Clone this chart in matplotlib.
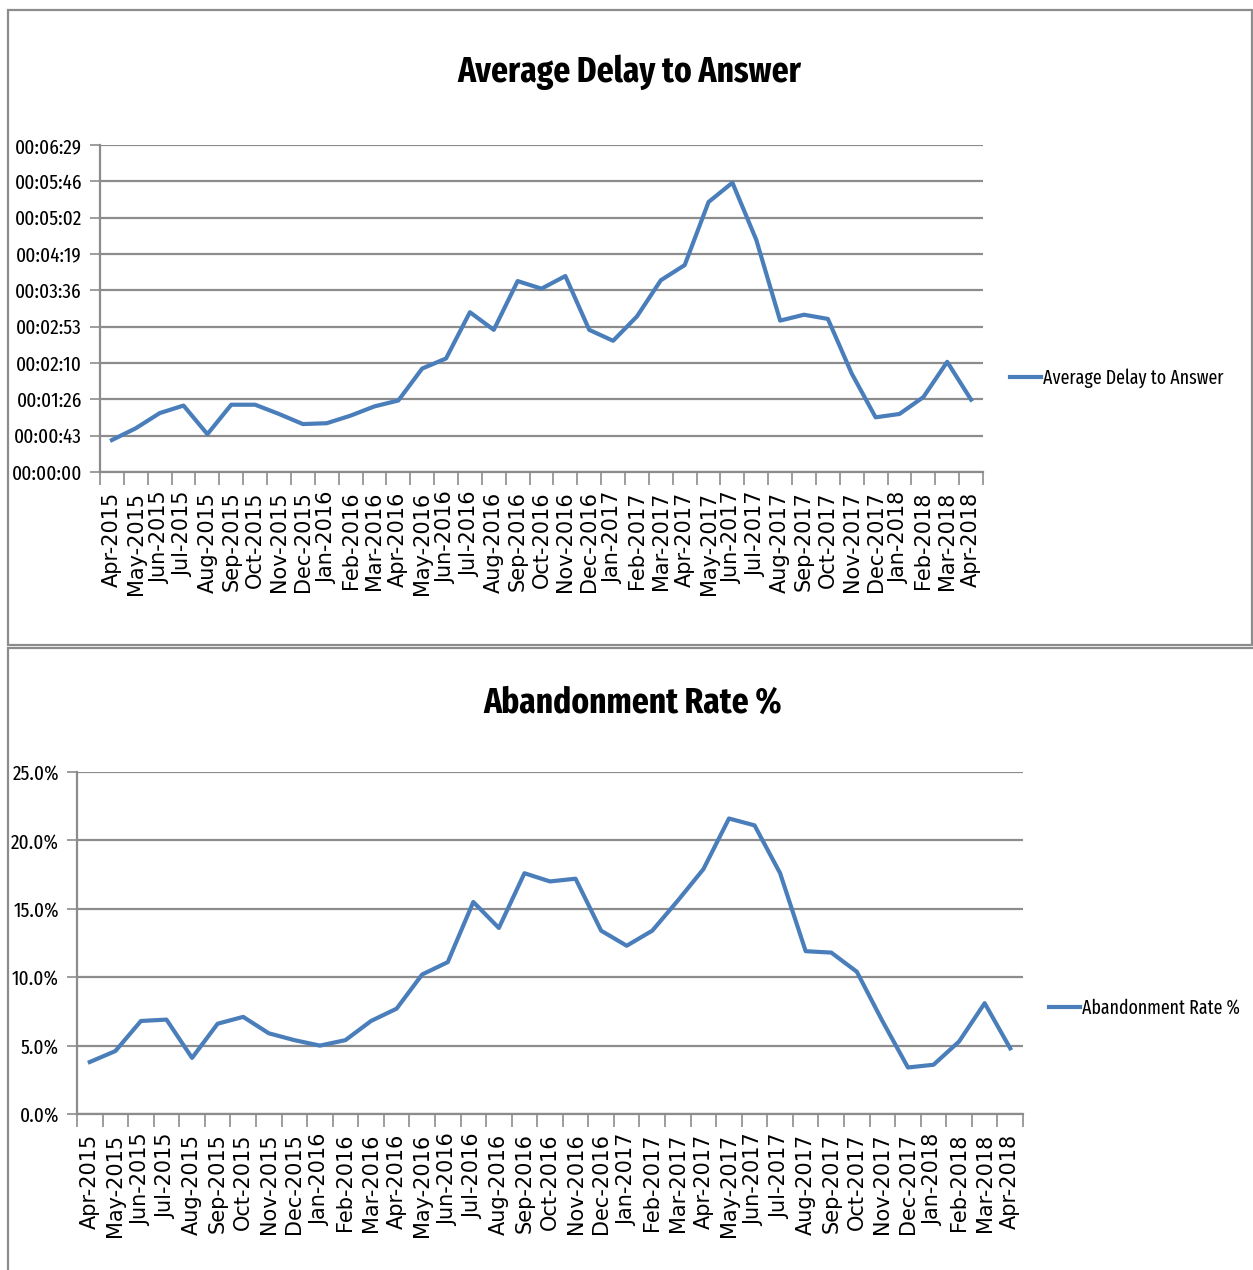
import matplotlib
matplotlib.use('Agg')
import matplotlib.pyplot as plt
from matplotlib.patches import Rectangle
from matplotlib.ticker import FuncFormatter, MultipleLocator

# months on the category axis
months = ['Apr-2015', 'May-2015', 'Jun-2015', 'Jul-2015', 'Aug-2015', 'Sep-2015',
          'Oct-2015', 'Nov-2015', 'Dec-2015', 'Jan-2016', 'Feb-2016', 'Mar-2016',
          'Apr-2016', 'May-2016', 'Jun-2016', 'Jul-2016', 'Aug-2016', 'Sep-2016',
          'Oct-2016', 'Nov-2016', 'Dec-2016', 'Jan-2017', 'Feb-2017', 'Mar-2017',
          'Apr-2017', 'May-2017', 'Jun-2017', 'Jul-2017', 'Aug-2017', 'Sep-2017',
          'Oct-2017', 'Nov-2017', 'Dec-2017', 'Jan-2018', 'Feb-2018', 'Mar-2018',
          'Apr-2018']

# average delay to answer, seconds
delay_sec = [38, 52, 70, 79, 45, 80, 80, 69, 57, 58, 67, 78,
             85, 123, 135, 190, 169, 227, 218, 233, 169, 156, 185, 228,
             246, 321, 344, 276, 180, 187, 182, 117, 65, 69, 89, 131,
             86]

# abandonment rate, percent
abandon_pct = [3.8, 4.6, 6.8, 6.9, 4.1, 6.6, 7.1, 5.9, 5.4, 5.0, 5.4, 6.8,
               7.7, 10.2, 11.1, 15.5, 13.6, 17.6, 17.0, 17.2, 13.4, 12.3, 13.4, 15.6,
               17.9, 21.6, 21.1, 17.6, 11.9, 11.8, 10.4, 6.8, 3.4, 3.6, 5.3, 8.1,
               4.8]

W, H = 1253, 1270
blue = '#4a7ebb'
grey = '#8c8c8c'
narrow = ['Fira Sans Extra Condensed', 'Roboto Condensed', 'DejaVu Sans']

fig = plt.figure(figsize=(W / 100, H / 100), dpi=100)


def box(x0, y0, x1, y1):
    # pixel box (top-left origin) -> figure fraction
    return [x0 / W, 1 - y1 / H, (x1 - x0) / W, (y1 - y0) / H]


def hms(v, pos):
    s = int(round(v))
    return '%02d:%02d:%02d' % (s // 3600, (s % 3600) // 60, s % 60)


def pct(v, pos):
    return '%.1f%%' % v


def draw(rect, values, label, ymax, ystep, fmt, leg_xy):
    ax = fig.add_axes(rect)
    x = list(range(len(months)))
    ax.plot(x, values, color=blue, lw=3.0, label=label)
    ax.set_xlim(-0.5, len(months) - 0.5)
    ax.set_ylim(0, ymax)
    ax.yaxis.set_major_locator(MultipleLocator(ystep))
    ax.yaxis.set_major_formatter(FuncFormatter(fmt))
    ax.grid(axis='y', color=grey, lw=1.6)
    ax.set_axisbelow(True)
    # tick marks between categories, labels centred
    ax.set_xticks([i - 0.5 for i in range(len(months) + 1)])
    ax.set_xticklabels([])
    ax.set_xticks(x, minor=True)
    ax.set_xticklabels(months, minor=True, rotation=90, fontsize=15,
                       family='DejaVu Sans')
    ax.tick_params(axis='x', which='major', length=9, width=1.2, color=grey, direction='out')
    ax.tick_params(axis='x', which='minor', length=0, pad=14)
    ax.tick_params(axis='y', length=7, width=1.2, color=grey, labelsize=15, pad=6)
    for t in ax.get_yticklabels():
        t.set_family(narrow)
    for s in ['top', 'right']:
        ax.spines[s].set_visible(False)
    for s in ['left', 'bottom']:
        ax.spines[s].set_color(grey)
        ax.spines[s].set_linewidth(1.6)
    ax.legend(loc='center left', bbox_to_anchor=leg_xy, bbox_transform=fig.transFigure,
              frameon=False, handlelength=1.6, handletextpad=0.1, borderaxespad=0,
              borderpad=0, prop={'family': narrow, 'size': 14})
    return ax


ax1 = draw(box(100, 145, 983, 472), delay_sec, 'Average Delay to Answer',
           388.8, 43.2, hms, (1010 / W, 1 - 378 / H))
ax2 = draw(box(77, 772, 1023, 1114), abandon_pct, 'Abandonment Rate %',
           25, 5, pct, (1049 / W, 1 - 1008 / H))

fig.text(629 / W, 1 - 72 / H, 'Average Delay to Answer', ha='center', va='center',
         fontsize=26, fontweight='bold', family=narrow)
fig.text(633 / W, 1 - 703 / H, 'Abandonment Rate %', ha='center', va='center',
         fontsize=26, fontweight='bold', family=narrow)

# chart frames
fig.patches.append(Rectangle((8 / W, 1 - 645 / H), 1244 / W, 635 / H, transform=fig.transFigure,
                             fill=False, ec=grey, lw=1.6))
fig.patches.append(Rectangle((8 / W, 1 - 1280 / H), 1260 / W, 632 / H, transform=fig.transFigure,
                             fill=False, ec=grey, lw=1.6))

fig.savefig('out.png', dpi=100, facecolor='white')
